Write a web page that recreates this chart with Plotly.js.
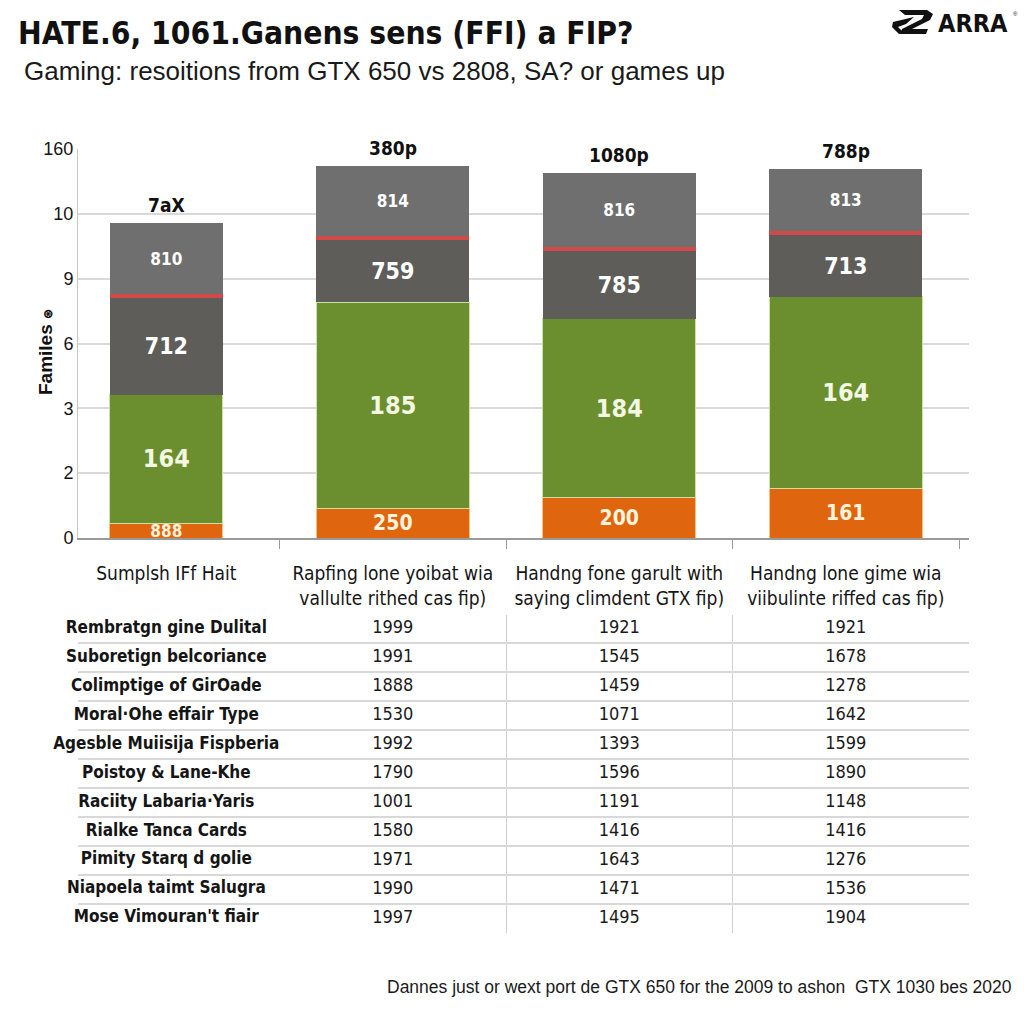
<!DOCTYPE html>
<html>
<head>
<meta charset="utf-8">
<script src="https://cdn.plot.ly/plotly-3.0.1.min.js"></script>
<style>html,body{margin:0;padding:0;background:#fff;}#chart{width:1024px;height:1024px;}</style>
</head>
<body>
<div id="chart"></div>
<script>
// ---- chart data ----
const categories = [
  'Sumplsh IFf Hait',
  'Rapfing lone yoibat wia<br>vallulte rithed cas fip)',
  'Handng fone garult with<br>saying climdent GTX fip)',
  'Handng lone gime wia<br>viibulinte riffed cas fip)'
];
const topLabels = ['7aX', '380p', '1080p', '788p'];
const yTickText = ['0', '2', '3', '6', '9', '10', '160'];

const orangeVals = [0.23, 0.45, 0.63, 0.76];
const greenVals  = [1.98, 3.19, 2.75, 2.96];
const darkVals   = [1.49, 0.96, 1.05, 0.96];
const redVals    = [0.06, 0.06, 0.06, 0.06];
const lightVals  = [1.10, 1.08, 1.14, 0.95];

const orangeText = ['888', '250', '200', '161'];
const greenText  = ['164', '185', '184', '164'];
const darkText   = ['712', '759', '785', '713'];
const lightText  = ['810', '814', '816', '813'];

// ---- table data ----
const rowLabels = [
  'Rembratgn gine Dulital', 'Suboretign belcoriance', 'Colimptige of GirOade',
  'Moral·Ohe effair Type', 'Agesble Muiisija Fispberia', 'Poistoy & Lane-Khe',
  'Raciity Labaria·Yaris', 'Rialke Tanca Cards', 'Pimity Starq d golie',
  'Niapoela taimt Salugra', "Mose Vimouran't fiair"
];
const col1 = ['1999', '1991', '1888', '1530', '1992', '1790', '1001', '1580', '1971', '1990', '1997'];
const col2 = ['1921', '1545', '1459', '1071', '1393', '1596', '1191', '1416', '1643', '1471', '1495'];
const col3 = ['1921', '1678', '1278', '1642', '1599', '1890', '1148', '1416', '1276', '1536', '1904'];

const footerText = 'Dannes just or wext port de GTX 650 for the 2009 to ashon  GTX 1030 bes 2020';
const titleText = 'HATE.6, 1061.Ganens sens (FFI) a FIP?';
const subtitleText = 'Gaming: resoitions from GTX 650 vs 2808, SA? or games up';
const yTitleText = 'Familes <span style="font-size:12px">⊛</span>';

// ---- styling ----
const NARROW = "'Liberation Sans Narrow', 'Arial Narrow', 'DejaVu Sans Condensed', sans-serif";
const SANS = "'Liberation Sans', Arial, sans-serif";
const barWidths = [0.5, 0.675, 0.675, 0.675];

function segTrace(vals, txt, color, size, txtColor, line) {
  return {
    type: 'bar', x: categories, y: vals, width: barWidths,
    text: txt, texttemplate: txt ? '%{text}' : '', textposition: txt ? 'inside' : 'none',
    insidetextanchor: 'middle', constraintext: 'none', textangle: 0,
    textfont: {family: NARROW, size: size, color: txtColor, weight: 700},
    marker: {color: color, line: line || {width: 0}},
    xaxis: 'x', yaxis: 'y', hoverinfo: 'skip', showlegend: false
  };
}

const traces = [
  segTrace(orangeVals, orangeText, '#e0650f', [17, 21, 21, 21], '#fff4dc', {color: '#f3c27c', width: 1}),
  segTrace(greenVals, greenText, '#6b8f2f', 25, '#f4f8e2', {color: '#cfe0a6', width: 1}),
  segTrace(darkVals, darkText, '#5e5d5a', 23, '#ffffff'),
  segTrace(redVals, null, '#d24a48', 10, '#fff'),
  segTrace(lightVals, lightText, '#6f6f6f', 17, '#ffffff')
];

// table text via second subplot
const tx = [], ty = [], tt = [];
[col1, col2, col3].forEach((col, c) => col.forEach((v, r) => { tx.push(c + 1); ty.push(r); tt.push(v); }));
traces.push({
  type: 'scatter', mode: 'text', x: rowLabels.map(() => 0), y: rowLabels.map((_, i) => i),
  text: rowLabels, textposition: 'middle center',
  textfont: {family: NARROW, size: 17, color: '#151515', weight: 700},
  xaxis: 'x2', yaxis: 'y2', hoverinfo: 'skip', showlegend: false, cliponaxis: false
});
traces.push({
  type: 'scatter', mode: 'text', x: tx, y: ty, text: tt, textposition: 'middle center',
  textfont: {family: NARROW, size: 18, color: '#1a1a1a'},
  xaxis: 'x2', yaxis: 'y2', hoverinfo: 'skip', showlegend: false, cliponaxis: false
});

// totals for labels above bars
const totals = categories.map((_, i) => orangeVals[i] + greenVals[i] + darkVals[i] + redVals[i] + lightVals[i]);

const W = 1024, L = 78, PW = 891;
const px = p => (p - L) / PW;
const py = p => 1 - p / W;

const annotations = topLabels.map((t, i) => ({
  x: categories[i], y: totals[i], xref: 'x', yref: 'y', text: t, showarrow: false,
  yanchor: 'bottom', yshift: 5, font: {family: NARROW, size: 19, color: '#111', weight: 700}
}));
annotations.push({
  xref: 'paper', yref: 'paper', x: px(22), y: py(71), xanchor: 'left', yanchor: 'middle',
  text: subtitleText, showarrow: false, font: {family: SANS, size: 26, color: '#1a1a1a'}
});
annotations.push({
  xref: 'paper', yref: 'paper', x: px(1014), y: py(987), xanchor: 'right', yanchor: 'middle',
  text: footerText, showarrow: false, font: {family: SANS, size: 17.5, color: '#1a1a1a'}
});
annotations.push({
  xref: 'paper', yref: 'paper', x: px(1010), y: py(23), xanchor: 'right', yanchor: 'middle',
  text: 'ARRA', showarrow: false, font: {family: NARROW, size: 25, color: '#111', weight: 700}
});
annotations.push({
  xref: 'paper', yref: 'paper', x: px(1011), y: py(14), xanchor: 'left', yanchor: 'middle',
  text: '®', showarrow: false, font: {family: SANS, size: 6, color: '#111'}
});
annotations.push({
  xref: 'paper', yref: 'paper', x: px(45), y: py(352), xanchor: 'center', yanchor: 'middle',
  text: yTitleText, textangle: -90, showarrow: false,
  font: {family: SANS, size: 19, color: '#111', weight: 700}
});

function pth(pts) {
  return 'M ' + pts.map(p => px(p[0]).toFixed(5) + ' ' + py(p[1]).toFixed(5)).join(' L ') + ' Z';
}
const shapes = [
  {type: 'path', xref: 'paper', yref: 'paper', fillcolor: '#111', line: {width: 0},
   path: pth([[899, 10], [927, 10], [933, 14], [930, 20], [912, 29], [928, 29], [926, 34], [900, 34], [902, 29], [922, 19], [924, 15], [905, 15]])},
  {type: 'path', xref: 'paper', yref: 'paper', fillcolor: '#111', line: {width: 0},
   path: pth([[893, 22], [914, 17], [906, 24], [898, 27], [904, 33], [899, 34], [892, 27]])}
];

const layout = {
  width: 1024, height: 1024,
  margin: {l: L, r: W - L - PW, t: 0, b: 0},
  paper_bgcolor: '#fff', plot_bgcolor: '#fff',
  barmode: 'stack', bargap: 0, hovermode: false, showlegend: false,
  title: {text: titleText, x: 18 / W, xanchor: 'left', y: 1 - 33 / W, yanchor: 'middle',
          font: {family: NARROW, size: 31.5, color: '#111', weight: 700}},
  xaxis: {
    type: 'category', categoryorder: 'array', categoryarray: categories,
    domain: [0, 1], anchor: 'y', range: [-0.39, 3.544],
    tickson: 'boundaries', ticks: 'outside', ticklen: 9, tickcolor: '#9a9a9a', tickwidth: 1,
    showline: true, linecolor: '#9a9a9a', linewidth: 1.5, showgrid: false, zeroline: false,
    ticklabelstandoff: 18,
    tickfont: {family: NARROW, size: 19, color: '#151515'}
  },
  yaxis: {
    domain: [py(538), py(149)], anchor: 'x', range: [0, 6],
    tickvals: [0, 1, 2, 3, 4, 5, 6], ticktext: yTickText,
    showgrid: true, gridcolor: '#d9d9d9', gridwidth: 2, zeroline: false,
    showline: true, linecolor: '#c6c6c6', linewidth: 1, ticks: '',
    tickfont: {family: SANS, size: 18, color: '#151515'}
  },
  xaxis2: {
    domain: [0, 1], anchor: 'y2', range: [-0.39, 3.544],
    tickvals: [1.5, 2.5], showticklabels: false, ticks: '',
    showgrid: true, gridcolor: '#d2d2d2', gridwidth: 1, zeroline: false, showline: false
  },
  yaxis2: {
    domain: [py(932.5), py(614.5)], anchor: 'x2', range: [10.5, -0.5],
    tickvals: [0.5, 1.5, 2.5, 3.5, 4.5, 5.5, 6.5, 7.5, 8.5, 9.5], showticklabels: false, ticks: '',
    showgrid: true, gridcolor: '#d8d8d8', gridwidth: 2, zeroline: false, showline: false
  },
  annotations: annotations,
  shapes: shapes
};

Plotly.newPlot('chart', traces, layout, {staticPlot: true, displayModeBar: false});
</script>
</body>
</html>
